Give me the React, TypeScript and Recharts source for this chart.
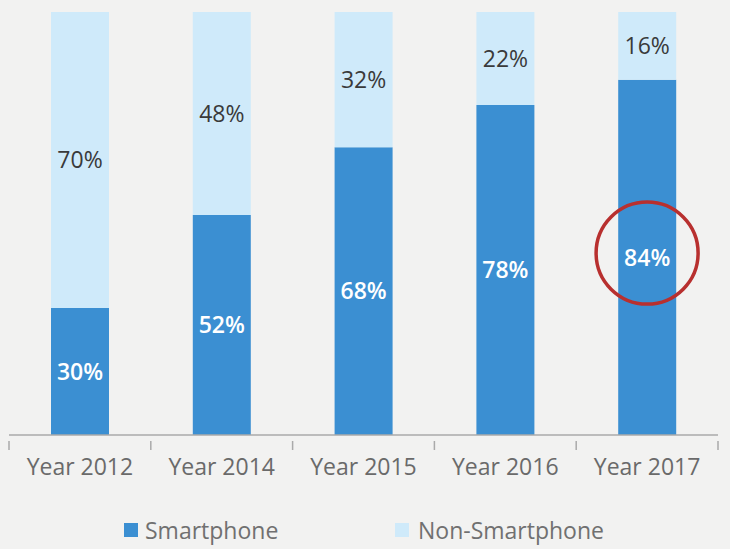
import React from 'react';
import {
  BarChart,
  Bar,
  XAxis,
  YAxis,
  LabelList,
  Legend,
  ReferenceDot,
} from 'recharts';

const years = ['Year 2012', 'Year 2014', 'Year 2015', 'Year 2016', 'Year 2017'];
const smartphone = [30, 52, 68, 78, 84];
const nonSmartphone = [70, 48, 32, 22, 16];

const data = years.map((year, i) => ({
  year,
  smartphone: smartphone[i],
  nonSmartphone: nonSmartphone[i],
}));

const DARK = '#3b8fd2';
const LIGHT = '#cfeafa';
const FONT = '"Open Sans", sans-serif';

const W = 730;
const H = 549;
const margin = { top: 12, right: 12, left: 9, bottom: 0 };
const halfBand = (W - margin.left - margin.right) / years.length / 2;

const YearTick = (props: any) => {
  const { x, y, payload, index } = props;
  return (
    <g>
      <line x1={x - halfBand} y1={y - 2} x2={x - halfBand} y2={y + 7} stroke="#aaa" strokeWidth={1.5} />
      {index === years.length - 1 && (
        <line x1={x + halfBand} y1={y - 2} x2={x + halfBand} y2={y + 7} stroke="#aaa" strokeWidth={1.5} />
      )}
      <text x={x} y={y + 32} textAnchor="middle" fill="#6a6a6a" fontSize={23} fontFamily={FONT}>
        {payload.value}
      </text>
    </g>
  );
};

const LegendContent = () => (
  <div style={{ position: 'relative', height: 54, fontFamily: FONT, fontSize: 23, color: '#707070' }}>
    <div style={{ position: 'absolute', left: 124, top: 19, display: 'flex', alignItems: 'center' }}>
      <span style={{ width: 14, height: 14, background: DARK, marginRight: 7 }} />
      <span>Smartphone</span>
    </div>
    <div style={{ position: 'absolute', left: 395, top: 19, display: 'flex', alignItems: 'center' }}>
      <span style={{ width: 14, height: 14, background: LIGHT, marginRight: 9 }} />
      <span>Non-Smartphone</span>
    </div>
  </div>
);

export default function App() {
  return (
    <div style={{ width: W, height: H, background: '#f2f2f1' }}>
      <style>{`body{margin:0}`}</style>
      <BarChart width={W} height={H} data={data} margin={margin}>
        <XAxis
          dataKey="year"
          height={60}
          interval={0}
          tickLine={false}
          axisLine={{ stroke: '#aaa', strokeWidth: 1.5 }}
          tick={<YearTick />}
        />
        <YAxis hide domain={[0, 100]} />
        <Legend
          verticalAlign="bottom"
          height={54}
          content={<LegendContent />}
          wrapperStyle={{ left: 0, width: W, bottom: 0 }}
        />
        <Bar dataKey="smartphone" name="Smartphone" stackId="a" fill={DARK} barSize={58} isAnimationActive={false}>
          <LabelList
            dataKey="smartphone"
            position="center"
            fill="#fff"
            fontSize={23}
            fontFamily={FONT}
            fontWeight={600}
            formatter={(v: any) => `${v}%`}
          />
        </Bar>
        <Bar dataKey="nonSmartphone" name="Non-Smartphone" stackId="a" fill={LIGHT} barSize={58} isAnimationActive={false}>
          <LabelList
            dataKey="nonSmartphone"
            position="center"
            fill="#3a3a3a"
            fontSize={23}
            fontFamily={FONT}
            formatter={(v: any) => `${v}%`}
          />
        </Bar>
        <ReferenceDot x="Year 2017" y={43} r={51} fill="none" stroke="#b8302f" strokeWidth={3.5} />
      </BarChart>
    </div>
  );
}
